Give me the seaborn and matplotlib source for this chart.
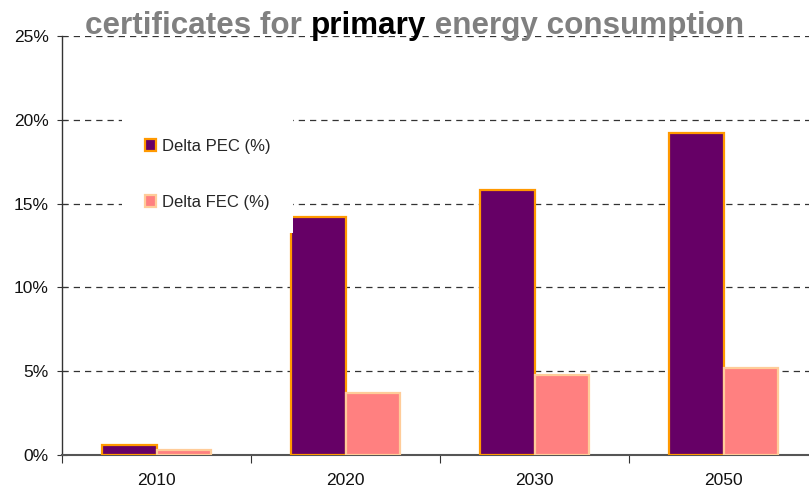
import matplotlib
matplotlib.use("Agg")
import matplotlib.pyplot as plt
import matplotlib.ticker as mticker
import seaborn as sns
import pandas as pd

# Values (%) per scenario year
years = ["2010", "2020", "2030", "2050"]
delta_pec = [0.6, 14.2, 15.8, 19.2]
delta_fec = [0.3, 3.7, 4.8, 5.2]
series_names = ["Delta PEC (%)", "Delta FEC (%)"]
y_ticks = [0, 5, 10, 15, 20, 25]

df = pd.DataFrame({
    "year": years * 2,
    "series": [series_names[0]] * len(years) + [series_names[1]] * len(years),
    "value": delta_pec + delta_fec,
})

sns.set_theme(style="white")
plt.rcParams["font.family"] = ["Liberation Sans", "DejaVu Sans"]

fills = {series_names[0]: "#660066", series_names[1]: "#FF8080"}
edges = {series_names[0]: "#FF9900", series_names[1]: "#FFCC99"}

fig = plt.figure(figsize=(8.09, 4.95), dpi=100)
ax = fig.add_axes([62 / 809, 40 / 495, 756 / 809, 419 / 495])

sns.barplot(data=df, x="year", y="value", hue="series", hue_order=series_names,
            order=years, palette=fills, width=0.58, saturation=1, ax=ax,
            zorder=3, legend=True)

for cont, name in zip(ax.containers, series_names):
    for bar in cont:
        bar.set_edgecolor(edges[name])
        bar.set_linewidth(1.6)

ax.set_ylim(0, 25)
ax.set_xlim(-0.5, len(years) - 0.5)
ax.set_yticks(y_ticks)
ax.yaxis.set_major_formatter(mticker.FuncFormatter(lambda v, _: f"{v:.0f}%"))
ax.set_xlabel("")
ax.set_ylabel("")

ax.yaxis.grid(True, linestyle=(0, (5, 4)), color="#333333", linewidth=0.9, zorder=0)
ax.xaxis.grid(False)
ax.set_axisbelow(True)

for s in ("top", "right"):
    ax.spines[s].set_visible(False)
ax.spines["left"].set_color("#333333")
ax.spines["left"].set_linewidth(1.0)
ax.spines["bottom"].set_color("#555555")
ax.spines["bottom"].set_linewidth(1.5)

ax.tick_params(axis="y", which="major", left=True, direction="inout", length=7,
               width=0.8, color="#333333", labelsize=12.5, pad=6, labelcolor="#111111")
ax.tick_params(axis="x", which="major", bottom=False, labelsize=12.5, pad=7,
               labelcolor="#111111")
ax.set_xticks([i - 0.5 for i in range(len(years) + 1)], minor=True)
ax.tick_params(axis="x", which="minor", bottom=True, direction="out", length=6,
               width=0.8, color="#333333")

# Legend on a plain white box, spaced widely
handles, labels = ax.get_legend_handles_labels()
ax.get_legend().remove()
for h, name in zip(handles, labels):
    h.set_edgecolor(edges[name])
    h.set_linewidth(1.6)
leg = ax.legend(handles, labels, frameon=True, fontsize=12,
                loc="upper left", bbox_to_anchor=(122 / 809, 1 - 116 / 495),
                bbox_transform=fig.transFigure, handlelength=0.7, handleheight=0.7,
                handletextpad=0.35, labelspacing=2.5, borderpad=1.35,
                fancybox=False, borderaxespad=0)
leg.get_frame().set_facecolor("white")
leg.get_frame().set_edgecolor("none")
leg.get_frame().set_alpha(1)
leg.set_zorder(5)

# Title in three parts, the middle word emphasised in black
parts = [("certificates for ", "#808080"), ("primary", "#000000"),
         (" energy consumption", "#808080")]
fig.canvas.draw()
renderer = fig.canvas.get_renderer()
x = 85
for txt, col in parts:
    t = fig.text(x / 809, 1 - 34 / 495, txt, color=col, fontsize=22.6,
                 fontweight="bold", ha="left", va="baseline")
    bb = t.get_window_extent(renderer=renderer)
    x = bb.x1

fig.savefig("out.png", dpi=100)
